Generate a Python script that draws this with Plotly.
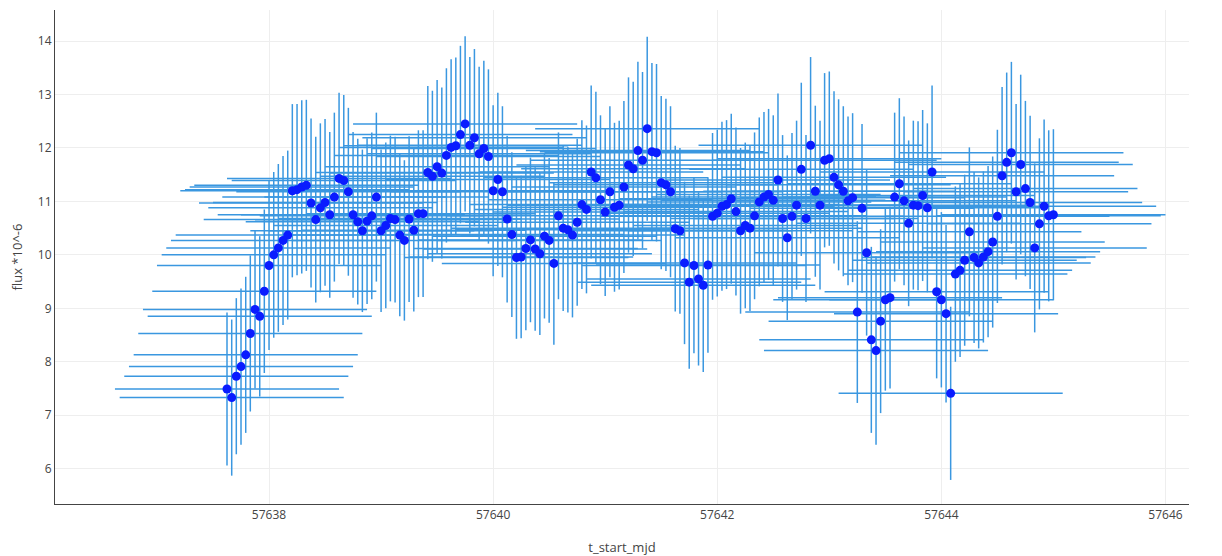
import plotly.graph_objects as go

t_start_mjd = [
    57637.625, 57637.667, 57637.708, 57637.750, 57637.792, 57637.833, 57637.875, 57637.917, 57637.958,
    57638.000, 57638.042, 57638.083, 57638.125, 57638.167, 57638.208, 57638.250, 57638.292, 57638.333,
    57638.375, 57638.417, 57638.458, 57638.500, 57638.542, 57638.583, 57638.625, 57638.667, 57638.708,
    57638.750, 57638.792, 57638.833, 57638.875, 57638.917, 57638.958,
    57639.000, 57639.042, 57639.083, 57639.125, 57639.167, 57639.208, 57639.250, 57639.292, 57639.333,
    57639.375, 57639.417, 57639.458, 57639.500, 57639.542, 57639.583, 57639.625, 57639.667, 57639.708,
    57639.750, 57639.792, 57639.833, 57639.875, 57639.917, 57639.958,
    57640.000, 57640.042, 57640.083, 57640.125, 57640.167, 57640.208, 57640.250, 57640.292, 57640.333,
    57640.375, 57640.417, 57640.458, 57640.500, 57640.542, 57640.583, 57640.625, 57640.667, 57640.708,
    57640.750, 57640.792, 57640.833, 57640.875, 57640.917, 57640.958,
    57641.000, 57641.042, 57641.083, 57641.125, 57641.167, 57641.208, 57641.250, 57641.292, 57641.333,
    57641.375, 57641.417, 57641.458, 57641.500, 57641.542, 57641.583, 57641.625, 57641.667, 57641.708,
    57641.750, 57641.792, 57641.833, 57641.875, 57641.917, 57641.958,
    57642.000, 57642.042, 57642.083, 57642.125, 57642.167, 57642.208, 57642.250, 57642.292, 57642.333,
    57642.375, 57642.417, 57642.458, 57642.500, 57642.542, 57642.583, 57642.625, 57642.667, 57642.708,
    57642.750, 57642.792, 57642.833, 57642.875, 57642.917, 57642.958,
    57643.000, 57643.042, 57643.083, 57643.125, 57643.167, 57643.208, 57643.250, 57643.292, 57643.333,
    57643.375, 57643.417, 57643.458, 57643.500, 57643.542, 57643.583, 57643.625, 57643.667, 57643.708,
    57643.750, 57643.792, 57643.833, 57643.875, 57643.917, 57643.958,
    57644.000, 57644.042, 57644.083, 57644.125, 57644.167, 57644.208, 57644.250, 57644.292, 57644.333,
    57644.375, 57644.417, 57644.458, 57644.500, 57644.542, 57644.583, 57644.625, 57644.667, 57644.708,
    57644.750, 57644.792, 57644.833, 57644.875, 57644.917, 57644.958,
    57645.000,
]

flux = [
    7.49, 7.33, 7.73, 7.91, 8.13, 8.53, 8.98, 8.85, 9.32,
    9.80, 10.00, 10.13, 10.27, 10.37, 11.20, 11.22, 11.27, 11.30,
    10.97, 10.66, 10.88, 10.98, 10.75, 11.08, 11.43, 11.39, 11.18,
    10.75, 10.62, 10.45, 10.63, 10.73, 11.08,
    10.45, 10.55, 10.68, 10.66, 10.37, 10.27, 10.67, 10.46, 10.77,
    10.77, 11.54, 11.47, 11.65, 11.53, 11.86, 12.01, 12.04, 12.25,
    12.45, 12.05, 12.19, 11.89, 11.99, 11.84,
    11.20, 11.41, 11.18, 10.67, 10.38, 9.95, 9.96, 10.12, 10.28,
    10.11, 10.02, 10.35, 10.27, 9.84, 10.73, 10.50, 10.47, 10.37,
    10.61, 10.94, 10.85, 11.55, 11.44, 11.03,
    10.80, 11.18, 10.89, 10.93, 11.27, 11.68, 11.61, 11.95, 11.77,
    12.36, 11.93, 11.91, 11.35, 11.31, 11.18, 10.49, 10.45, 9.85,
    9.49, 9.80, 9.55, 9.43, 9.81, 10.72,
    10.78, 10.91, 10.94, 11.05, 10.81, 10.45, 10.55, 10.50, 10.73,
    10.99, 11.08, 11.13, 11.02, 11.40, 10.68, 10.32, 10.72, 10.93,
    11.60, 10.68, 12.05, 11.19, 10.93, 11.77,
    11.80, 11.45, 11.31, 11.19, 11.01, 11.07, 8.93, 10.87, 10.04,
    8.41, 8.21, 8.76, 9.16, 9.20, 11.08, 11.33, 11.01, 10.59,
    10.93, 10.92, 11.11, 10.88, 11.55, 9.31,
    9.16, 8.90, 7.41, 9.64, 9.71, 9.90, 10.43, 9.95, 9.85,
    9.96, 10.06, 10.24, 10.72, 11.48, 11.73, 11.91, 11.18, 11.69,
    11.24, 10.98, 10.13, 10.58, 10.91, 10.73,
    10.75,
]

flux_err = [
    1.43, 1.46, 1.46, 1.46, 1.46, 1.46, 1.48, 1.50, 1.53,
    1.58, 1.55, 1.57, 1.58, 1.58, 1.62, 1.60, 1.62, 1.60,
    1.58, 1.55, 1.58, 1.56, 1.55, 1.58, 1.60, 1.60, 1.57,
    1.55, 1.55, 1.52, 1.55, 1.56, 1.58,
    1.52, 1.55, 1.55, 1.55, 1.52, 1.50, 1.55, 1.52, 1.56,
    1.56, 1.62, 1.60, 1.62, 1.60, 1.63, 1.65, 1.65, 1.66,
    1.64, 1.65, 1.66, 1.63, 1.64, 1.63,
    1.60, 1.62, 1.60, 1.56, 1.54, 1.52, 1.52, 1.53, 1.54,
    1.53, 1.52, 1.54, 1.54, 1.52, 1.56, 1.55, 1.55, 1.54,
    1.56, 1.58, 1.57, 1.62, 1.61, 1.58,
    1.57, 1.60, 1.58, 1.58, 1.61, 1.64, 1.63, 1.66, 1.65,
    1.72, 1.66, 1.66, 1.62, 1.61, 1.60, 1.55, 1.55, 1.52,
    1.62, 1.64, 1.62, 1.62, 1.64, 1.56,
    1.56, 1.58, 1.58, 1.59, 1.57, 1.55, 1.55, 1.55, 1.56,
    1.58, 1.59, 1.60, 1.59, 1.62, 1.56, 1.54, 1.56, 1.58,
    1.62, 1.56, 1.65, 1.60, 1.58, 1.63,
    1.63, 1.61, 1.60, 1.59, 1.58, 1.58, 1.70, 1.58, 1.55,
    1.74, 1.76, 1.72, 1.70, 1.70, 1.58, 1.60, 1.58, 1.55,
    1.58, 1.58, 1.60, 1.58, 1.62, 1.62,
    1.64, 1.66, 1.62, 1.64, 1.62, 1.60, 1.58, 1.60, 1.60,
    1.60, 1.60, 1.60, 1.62, 1.66, 1.68, 1.70, 1.64, 1.68,
    1.64, 1.62, 1.58, 1.60, 1.62, 1.60,
    1.60,
]

time_err = [1.0] * len(t_start_mjd)

fig = go.Figure(
    go.Scatter(
        x=t_start_mjd,
        y=flux,
        mode="markers",
        marker=dict(color="#0a1cff", size=9),
        error_x=dict(type="data", array=time_err, visible=True, color="#3a97e0", thickness=1.5, width=0),
        error_y=dict(type="data", array=flux_err, visible=True, color="#3a97e0", thickness=1.5, width=0),
        showlegend=False,
    )
)

fig.update_layout(
    width=1214,
    height=548,
    margin=dict(l=47, r=33, t=2, b=52),
    plot_bgcolor="white",
    paper_bgcolor="white",
    font=dict(family="Open Sans, Verdana, sans-serif", size=12, color="#444"),
    xaxis=dict(
        title=dict(text="t_start_mjd", font=dict(size=13), standoff=20),
        range=[57636.09, 57646.21],
        tickvals=[57638, 57640, 57642, 57644, 57646],
        ticktext=["57638", "57640", "57642", "57644", "57646"],
        showgrid=True, gridcolor="#eeeeee",
        showline=True, linecolor="#444", linewidth=1,
        zeroline=False, ticks="", automargin=False,
    ),
    yaxis=dict(
        title=dict(text="flux *10^-6", font=dict(size=13), standoff=14),
        range=[5.34, 14.58],
        tickvals=[6, 7, 8, 9, 10, 11, 12, 13, 14],
        showgrid=True, gridcolor="#eeeeee",
        showline=True, linecolor="#444", linewidth=1,
        zeroline=False, ticks="", automargin=False,
    ),
)

fig.write_html("out.html")
